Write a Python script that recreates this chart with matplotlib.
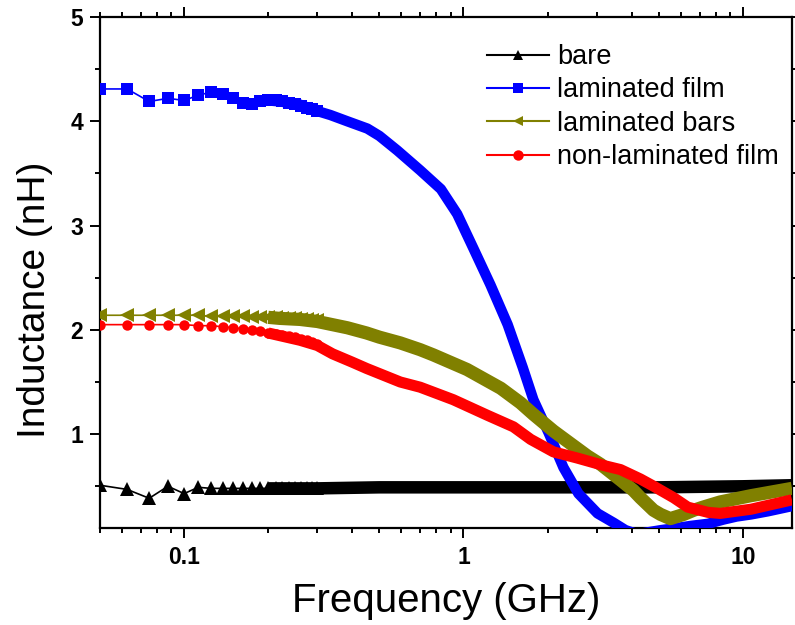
import numpy as np
import matplotlib
matplotlib.use("Agg")
import matplotlib.pyplot as plt
from matplotlib.lines import Line2D
from matplotlib.ticker import LogLocator, FixedLocator, NullFormatter

plt.rcParams['font.family'] = ['Liberation Sans', 'DejaVu Sans']

# frequences basses : pas de 12.5 MHz, points bien distincts
f_low = [0.05, 0.0625, 0.075, 0.0875, 0.1, 0.1125, 0.125, 0.1375, 0.15,
         0.1625, 0.175, 0.1875, 0.2, 0.2125, 0.225, 0.2375, 0.25, 0.2625,
         0.275, 0.2875, 0.3]

bare_low = [0.51, 0.47, 0.385, 0.50, 0.43, 0.49, 0.48, 0.48, 0.48,
            0.48, 0.48, 0.48, 0.48, 0.48, 0.48, 0.48, 0.48, 0.48,
            0.48, 0.48, 0.48]
film_low = [4.31, 4.31, 4.19, 4.22, 4.20, 4.25, 4.28, 4.26, 4.22,
            4.18, 4.17, 4.19, 4.20, 4.20, 4.19, 4.18, 4.17, 4.15,
            4.13, 4.12, 4.10]
bars_low = [2.14, 2.14, 2.14, 2.14, 2.14, 2.14, 2.13, 2.13, 2.13,
            2.13, 2.12, 2.12, 2.12, 2.12, 2.11, 2.11, 2.11, 2.10,
            2.10, 2.09, 2.09]
nonlam_low = [2.05, 2.05, 2.05, 2.05, 2.05, 2.04, 2.04, 2.03, 2.02,
              2.01, 2.00, 1.99, 1.97, 1.96, 1.95, 1.94, 1.93, 1.91,
              1.90, 1.88, 1.86]

# au dela de 0.2 GHz les marqueurs se confondent en une bande epaisse
f_bare = [0.2, 0.3, 0.5, 1, 2, 5, 10, 15]
bare_hi = [0.48, 0.48, 0.49, 0.49, 0.49, 0.49, 0.50, 0.51]

f_film = [0.2, 0.22, 0.26, 0.29, 0.334, 0.384, 0.453, 0.5, 0.58, 0.70, 0.83,
          0.95, 1.086, 1.25, 1.44, 1.63, 1.78, 2.02, 2.28, 2.58, 3.02, 3.45,
          3.8, 4.2, 4.6, 5.1, 5.8, 6.5, 7.5, 8.5, 9.5, 10.7, 12.3, 15]
film_hi = [4.20, 4.19, 4.16, 4.11, 4.06, 4.00, 3.93, 3.86, 3.72, 3.53, 3.35,
           3.11, 2.78, 2.43, 2.05, 1.64, 1.33, 1.01, 0.68, 0.43, 0.24, 0.15,
           0.08, 0.04, 0.06, 0.08, 0.10, 0.12, 0.14, 0.18, 0.21, 0.23, 0.26,
           0.31]

f_bars = [0.2, 0.22, 0.26, 0.3, 0.384, 0.45, 0.5, 0.594, 0.70, 0.78, 1.03,
          1.36, 1.6, 1.78, 2.1, 2.36, 2.78, 3.1, 3.65, 4.06, 4.3, 4.79, 5.08,
          5.5, 6.14, 6.67, 7.2, 8.3, 10.7, 15]
bars_hi = [2.12, 2.11, 2.10, 2.08, 2.02, 1.97, 1.93, 1.875, 1.81, 1.76, 1.62,
           1.44, 1.30, 1.19, 1.03, 0.93, 0.79, 0.71, 0.56, 0.46, 0.39, 0.27,
           0.23, 0.19, 0.23, 0.27, 0.30, 0.35, 0.41, 0.48]

f_nonlam = [0.2, 0.26, 0.3, 0.34, 0.4, 0.45, 0.594, 0.70, 0.92, 1.22, 1.51,
            1.74, 2.1, 2.56, 3.17, 3.65, 4.3, 4.8, 5.66, 6.35, 7.5, 8.3,
            10.7, 15]
nonlam_hi = [1.97, 1.90, 1.85, 1.77, 1.69, 1.63, 1.50, 1.45, 1.33, 1.18, 1.07,
             0.95, 0.83, 0.77, 0.70, 0.66, 0.57, 0.50, 0.39, 0.30, 0.25, 0.24,
             0.28, 0.37]

labels = ["bare", "laminated film", "laminated bars", "non-laminated film"]
colors = ["black", "#0000FF", "#808000", "#FF0000"]
markers = ["^", "s", "<", "o"]
msizes = [9.5, 8, 9.5, 7.5]
bandw = [9, 7.5, 9.5, 8]

lows = [bare_low, film_low, bars_low, nonlam_low]
highs = [(f_bare, bare_hi), (f_film, film_hi), (f_bars, bars_hi), (f_nonlam, nonlam_hi)]

fig = plt.figure(figsize=(7.95, 6.25), dpi=100)
ax = fig.add_axes([100/795, 97/625, 692/795, 511/625])

# ordre de trace : noir, bleu, rouge, olive (olive au dessus)
zorders = [2, 3, 5, 6]
for i in range(4):
    ax.plot(f_low, lows[i], color=colors[i], lw=1.2, marker=markers[i],
            ms=msizes[i], mew=0, zorder=zorders[i])
    fh, yh = highs[i]
    ax.plot(fh, yh, color=colors[i], lw=bandw[i], solid_capstyle='butt',
            solid_joinstyle='round', zorder=zorders[i])

ax.set_xscale('log')
ax.set_xlim(0.05, 15)
ax.set_ylim(0.1, 5)

ax.xaxis.set_major_locator(FixedLocator([0.1, 1, 10]))
ax.set_xticklabels(["0.1", "1", "10"])
ax.xaxis.set_minor_locator(LogLocator(base=10, subs=np.arange(2, 10)))
ax.xaxis.set_minor_formatter(NullFormatter())
ax.yaxis.set_major_locator(FixedLocator([1, 2, 3, 4, 5]))
ax.yaxis.set_minor_locator(FixedLocator([0.5, 1.5, 2.5, 3.5, 4.5]))

for s in ax.spines.values():
    s.set_linewidth(1.6)
ax.tick_params(which='both', direction='out', top=True, right=True, width=1.4)
ax.tick_params(which='major', length=7)
ax.tick_params(which='minor', length=3.8)
ax.tick_params(axis='x', which='major', pad=6)
ax.tick_params(axis='y', which='major', pad=5)
for t in ax.get_xticklabels() + ax.get_yticklabels():
    t.set_fontsize(16.5)
    t.set_fontweight('bold')

ax.set_xlabel("Frequency (GHz)", fontsize=29)
ax.set_ylabel("Inductance (nH)", fontsize=28)
ax.xaxis.set_label_coords(0.5, -0.105)
ax.yaxis.set_label_coords(-0.068, 0.446)

handles = [Line2D([], [], color=colors[i], lw=1.5, marker=markers[i],
                  ms=7.5, mew=0) for i in range(4)]
ax.legend(handles, labels, loc='upper left', bbox_to_anchor=(0.559, 0.947),
          frameon=False, fontsize=19.5, borderpad=0, borderaxespad=0,
          handlelength=2.3, handletextpad=0.3, labelspacing=0.27)

plt.savefig("out.png", dpi=100)
